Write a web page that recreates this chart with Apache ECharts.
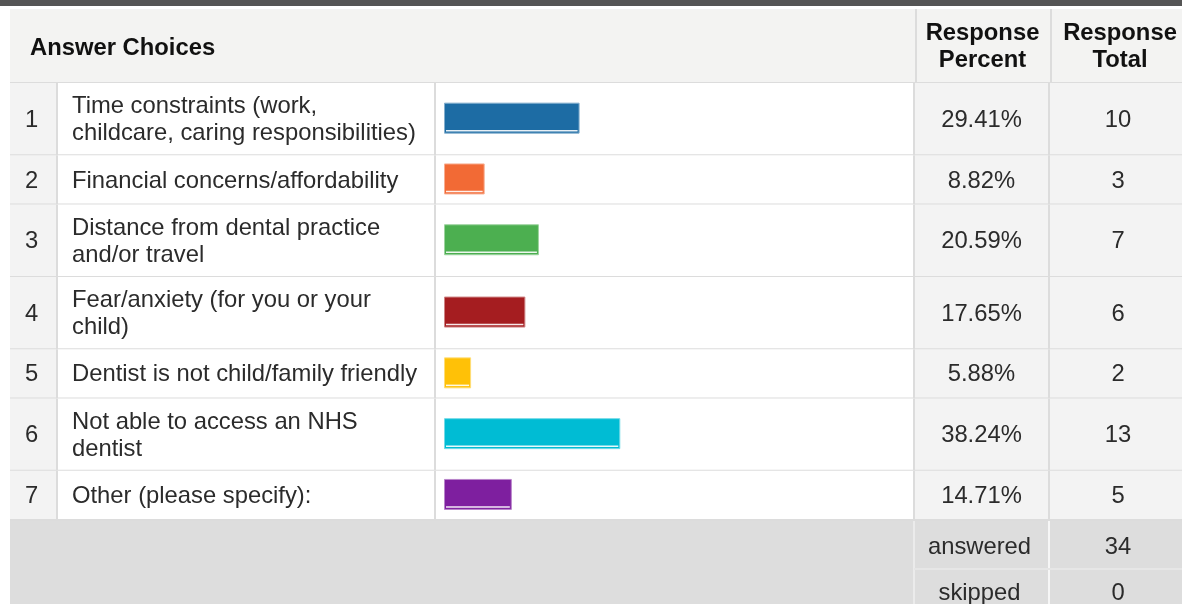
<!DOCTYPE html>
<html>
<head>
<meta charset="utf-8">
<script src="https://cdn.jsdelivr.net/npm/echarts@6/dist/echarts.min.js"></script>
<style>
  html, body { margin: 0; padding: 0; background: #ffffff; }
  #chart { width: 1182px; height: 604px; }
</style>
</head>
<body>
<div id="chart"></div>
<script>
// Survey results: barriers to taking a child to the dentist
const choiceLabels = [
  'Time constraints (work,\nchildcare, caring responsibilities)',
  'Financial concerns/affordability',
  'Distance from dental practice\nand/or travel',
  'Fear/anxiety (for you or your\nchild)',
  'Dentist is not child/family friendly',
  'Not able to access an NHS\ndentist',
  'Other (please specify):'
];
const responsePercent = [29.41, 8.82, 20.59, 17.65, 5.88, 38.24, 14.71];
const responseTotal = [10, 3, 7, 6, 2, 13, 5];
const answeredCount = 34;
const skippedCount = 0;
const headerAnswer = 'Answer Choices';
const headerPercent = 'Response\nPercent';
const headerTotal = 'Response\nTotal';

// Bar palette, one colour per answer choice
const barColors = ['#1d6ca4', '#f26a35', '#4caf50', '#a51d20', '#ffc107', '#00bcd4', '#7e1f9f'];

// ---- table layout ----
const W = 1182, H = 604;
const COL = { left: 10, num: 57, text: 435, pct: 914, tot: 1049, right: 1182 };
const TOT_CENTER = 1118;
const PCT_CENTER = (COL.pct + COL.tot) / 2;
const HEADER_TOP = 9, HEADER_BOTTOM = 83;
const ROW_H_BY_LINES = { 1: 49.3, 2: 72.3 };
const SUMMARY_ROW_H = 48;
const FONT = '"Liberation Sans", Arial, Helvetica, sans-serif';
const FS = 23.8;
const LINE_H = 27;
const BAR_H = 31;
const TEXT_COLOR = '#2b2b2b';
const BORDER = '#dcdcdc';
const CELL_GRAY = '#f3f3f3';
const SUMMARY_GRAY = '#dddddd';

const rowTops = [];
const rowHeights = [];
let cursor = HEADER_BOTTOM;
choiceLabels.forEach(function (lbl) {
  const h = ROW_H_BY_LINES[lbl.split('\n').length];
  rowTops.push(cursor);
  rowHeights.push(h);
  cursor += h;
});
const TABLE_BOTTOM = cursor;

// blend a hex colour toward white by t (0..1)
function tint(hex, t) {
  const n = parseInt(hex.slice(1), 16);
  const r = (n >> 16) & 255, g = (n >> 8) & 255, b = n & 255;
  const m = function (c) { return Math.round(c + (255 - c) * t); };
  return 'rgb(' + m(r) + ',' + m(g) + ',' + m(b) + ')';
}

function txt(text, x, y, opts) {
  return {
    type: 'text',
    style: Object.assign({
      text: text, x: x, y: y,
      fill: TEXT_COLOR,
      fontFamily: FONT, fontSize: FS,
      lineHeight: LINE_H,
      align: 'center', verticalAlign: 'middle'
    }, opts || {})
  };
}
function hline(x1, x2, y, color, w) {
  return { type: 'line', shape: { x1: x1, y1: y, x2: x2, y2: y }, style: { stroke: color, lineWidth: w || 2 } };
}
function vline(x, y1, y2, color, w) {
  return { type: 'line', shape: { x1: x, y1: y1, x2: x, y2: y2 }, style: { stroke: color, lineWidth: w || 2 } };
}
function box(x, y, w, h, fill) {
  return { type: 'rect', shape: { x: x, y: y, width: w, height: h }, style: { fill: fill } };
}

// One table row per answer choice; the bar length comes from the x value axis
function renderRow(params, api) {
  const i = params.dataIndex;
  const pct = api.value(0);
  const total = api.value(2);
  const top = rowTops[i];
  const h = rowHeights[i];
  const yTop = api.coord([0, top])[1];
  const yBot = api.coord([0, top + h])[1];
  const yMid = (yTop + yBot) / 2;
  const x0 = api.coord([0, top])[0];
  const x1 = api.coord([pct, top])[0];
  const color = barColors[i];
  const barTop = yMid - BAR_H / 2 - 1;

  return {
    type: 'group',
    children: [
      box(COL.left, yTop, COL.num - COL.left, yBot - yTop, CELL_GRAY),
      box(COL.num, yTop, COL.pct - COL.num, yBot - yTop, '#ffffff'),
      box(COL.pct, yTop, COL.right - COL.pct, yBot - yTop, CELL_GRAY),
      vline(COL.num, yTop, yBot, BORDER),
      vline(COL.text, yTop, yBot, BORDER),
      vline(COL.pct, yTop, yBot, BORDER),
      vline(COL.tot, yTop, yBot, BORDER),
      hline(COL.left, COL.right, yBot, BORDER),
      txt(String(i + 1), (COL.left + COL.num) / 2 - 2, yMid + 1),
      txt(choiceLabels[i], COL.num + 15, yMid + 1, { align: 'left' }),
      txt(pct.toFixed(2) + '%', PCT_CENTER, yMid + 1),
      txt(String(total), TOT_CENTER, yMid + 1),
      {
        type: 'rect',
        shape: { x: x0 + 0.5, y: barTop + 0.5, width: x1 - x0 - 1, height: BAR_H - 1 },
        style: { fill: color, stroke: tint(color, 0.45), lineWidth: 1 }
      },
      {
        type: 'line',
        shape: { x1: x0 + 2, y1: barTop + BAR_H - 3, x2: x1 - 2, y2: barTop + BAR_H - 3 },
        style: { stroke: '#ffffff', lineWidth: 1.5, opacity: 0.9 }
      }
    ]
  };
}

const chart = echarts.init(document.getElementById('chart'), null, { renderer: 'canvas' });

const headerMid = (HEADER_TOP + HEADER_BOTTOM) / 2;
const graphics = [
  // dark strip along the top edge
  box(0, 0, W, 6, '#555555'),
  // header row
  box(COL.left, HEADER_TOP, COL.right - COL.left, HEADER_BOTTOM - HEADER_TOP, '#f3f3f2'),
  vline(COL.pct + 2, HEADER_TOP, HEADER_BOTTOM, BORDER),
  vline(COL.tot + 2, HEADER_TOP, HEADER_BOTTOM, BORDER),
  hline(COL.left, COL.right, HEADER_BOTTOM, BORDER),
  txt(headerAnswer, 30, headerMid + 2, { align: 'left', fontWeight: 'bold', fill: '#111111' }),
  txt(headerPercent, PCT_CENTER + 1, headerMid + 1, { fontWeight: 'bold', fill: '#111111' }),
  txt(headerTotal, TOT_CENTER + 2, headerMid + 1, { fontWeight: 'bold', fill: '#111111' }),
  // summary rows
  box(COL.left, TABLE_BOTTOM + 1, COL.right - COL.left, H - TABLE_BOTTOM, SUMMARY_GRAY),
  vline(COL.pct, TABLE_BOTTOM + 1, H, '#ebebeb'),
  vline(COL.tot, TABLE_BOTTOM + 1, H, '#f6f6f6'),
  hline(COL.pct, COL.right, TABLE_BOTTOM + 1 + SUMMARY_ROW_H, '#e6e6e6'),
  txt('answered', PCT_CENTER - 2, TABLE_BOTTOM + 1 + SUMMARY_ROW_H / 2 + 2),
  txt(String(answeredCount), TOT_CENTER, TABLE_BOTTOM + 1 + SUMMARY_ROW_H / 2 + 2),
  txt('skipped', PCT_CENTER - 2, TABLE_BOTTOM + 1 + SUMMARY_ROW_H + 24),
  txt(String(skippedCount), TOT_CENTER, TABLE_BOTTOM + 1 + SUMMARY_ROW_H + 24)
];

chart.setOption({
  animation: false,
  backgroundColor: '#ffffff',
  grid: { left: 444, width: 461, top: 0, height: H, containLabel: false },
  xAxis: { type: 'value', min: 0, max: 100, show: false },
  yAxis: { type: 'value', min: 0, max: H, inverse: true, show: false },
  graphic: { elements: graphics },
  series: [{
    type: 'custom',
    renderItem: renderRow,
    clip: false,
    encode: { x: 0, y: 1 },
    data: responsePercent.map(function (p, i) { return [p, i, responseTotal[i]]; })
  }]
});
</script>
</body>
</html>
